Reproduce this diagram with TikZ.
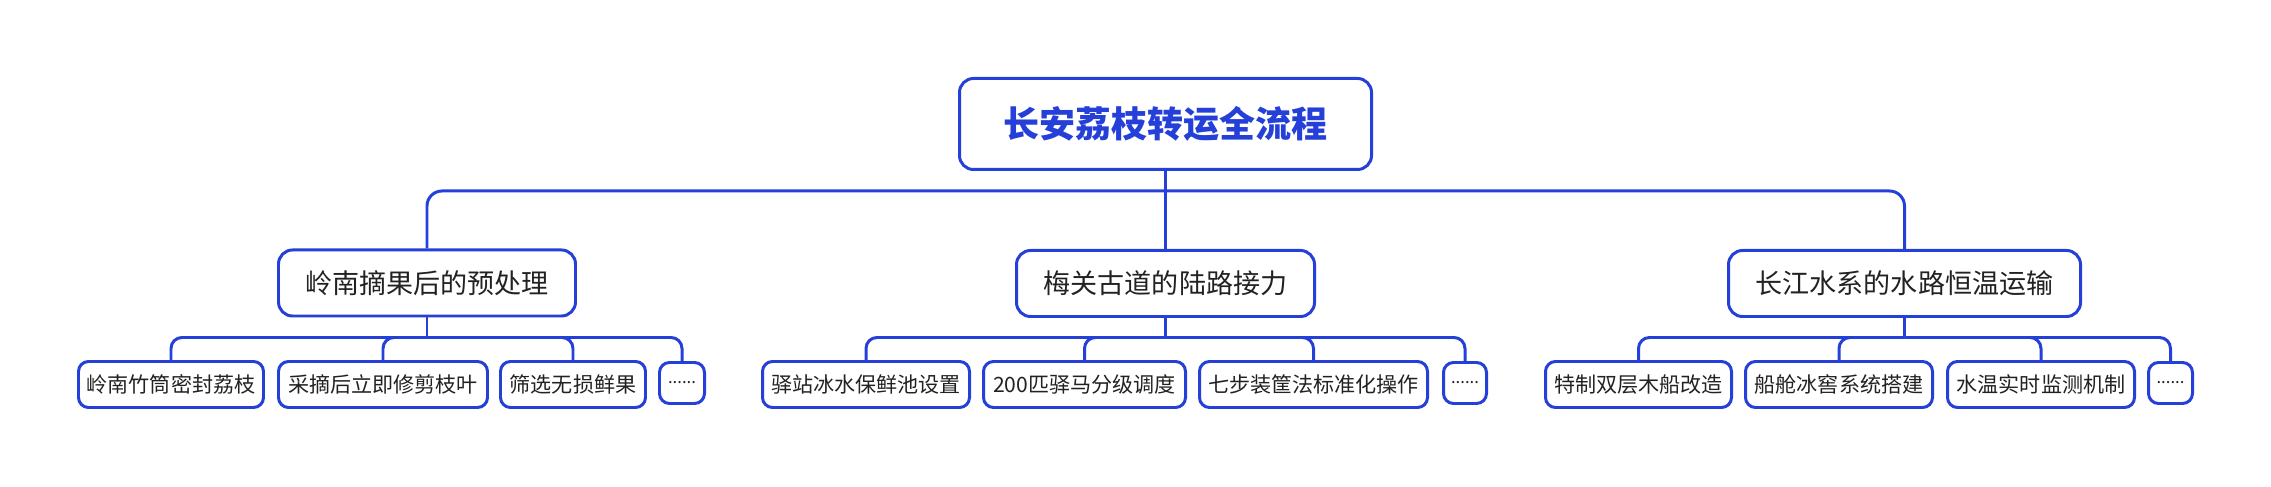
\documentclass[tikz,border=0pt]{standalone}
\usepackage{fontspec}
\usepackage{tikz}
\newfontfamily\cjk{Noto Sans CJK SC}
\definecolor{mblue}{RGB}{37, 64, 216}
\definecolor{mgray}{RGB}{34, 34, 34}
\tikzset{
  topic/.style={draw=mblue, line width=1.7pt, rounded corners=0.28cm, fill=white, text=mgray, inner sep=0pt, align=center},
  rootbox/.style={topic, minimum width=8.24cm, minimum height=1.82cm, text=mblue, font=\cjk\bfseries\fontsize{20.5}{24}\selectfont},
  mainbox/.style={topic, minimum height=1.32cm, font=\cjk\fontsize{15.4}{18}\selectfont},
  subbox/.style={topic, rounded corners=0.2cm, minimum height=0.92cm, font=\cjk\fontsize{12}{14}\selectfont},
  dotbox/.style={subbox, minimum height=0.82cm, font=\cjk\fontsize{9.5}{12}\selectfont},
  link/.style={mblue, line width=1.7pt},
}

\begin{document}
\begin{tikzpicture}
    \useasboundingbox (0, 0) rectangle (45.42, -9.74);

    \node [rootbox] (root) at (23.31, -2.48) {长安荔枝转运全流程};

    \node [mainbox, minimum width=5.94cm] (pre) at (8.54, -5.66) {岭南摘果后的预处理};
    \node [mainbox, minimum width=5.96cm] (land) at (23.31, -5.67) {梅关古道的陆路接力};
    \node [mainbox, minimum width=7.04cm] (water) at (38.09, -5.67) {长江水系的水路恒温运输};

    \node [subbox, minimum width=3.7cm] (pre1) at (3.42, -7.69) {岭南竹筒密封荔枝};
    \node [subbox, minimum width=4.18cm] (pre2) at (7.66, -7.69) {采摘后立即修剪枝叶};
    \node [subbox, minimum width=2.9cm] (pre3) at (11.46, -7.69) {筛选无损鲜果};
    \node [dotbox, minimum width=0.9cm] (pre4) at (13.64, -7.66) {......};

    \node [subbox, minimum width=4.14cm] (land1) at (17.32, -7.69) {驿站冰水保鲜池设置};
    \node [subbox, minimum width=4.04cm] (land2) at (21.69, -7.69) {200匹驿马分级调度};
    \node [subbox, minimum width=4.56cm] (land3) at (26.27, -7.69) {七步装筐法标准化操作};
    \node [dotbox, minimum width=0.86cm] (land4) at (29.3, -7.66) {......};

    \node [subbox, minimum width=3.72cm] (water1) at (32.77, -7.69) {特制双层木船改造};
    \node [subbox, minimum width=3.74cm] (water2) at (36.78, -7.69) {船舱冰窖系统搭建};
    \node [subbox, minimum width=3.74cm] (water3) at (40.82, -7.69) {水温实时监测机制};
    \node [dotbox, minimum width=0.88cm] (water4) at (43.41, -7.66) {......};

    \coordinate (rootbus) at (root.south |- 0, -3.82);
    \coordinate (prebus) at (pre.south |- 0, -6.75);
    \coordinate (landbus) at (land.south |- 0, -6.75);
    \coordinate (waterbus) at (water.south |- 0, -6.75);

    \draw [link] (root.south) -- (rootbus);
    \draw [link, rounded corners=0.3cm] (rootbus) -| (pre.north);
    \draw [link, rounded corners=0.3cm] (rootbus) -| (land.north);
    \draw [link, rounded corners=0.3cm] (rootbus) -| (water.north);

    \draw [link] (pre.south) -- (prebus);
    \draw [link, rounded corners=0.22cm] (prebus) -| (pre1.north);
    \draw [link, rounded corners=0.22cm] (prebus) -| (pre2.north);
    \draw [link, rounded corners=0.22cm] (prebus) -| (pre3.north);
    \draw [link, rounded corners=0.22cm] (prebus) -| (pre4.north);

    \draw [link] (land.south) -- (landbus);
    \draw [link, rounded corners=0.22cm] (landbus) -| (land1.north);
    \draw [link, rounded corners=0.22cm] (landbus) -| (land2.north);
    \draw [link, rounded corners=0.22cm] (landbus) -| (land3.north);
    \draw [link, rounded corners=0.22cm] (landbus) -| (land4.north);

    \draw [link] (water.south) -- (waterbus);
    \draw [link, rounded corners=0.22cm] (waterbus) -| (water1.north);
    \draw [link, rounded corners=0.22cm] (waterbus) -| (water2.north);
    \draw [link, rounded corners=0.22cm] (waterbus) -| (water3.north);
    \draw [link, rounded corners=0.22cm] (waterbus) -| (water4.north);
  \end{tikzpicture}
\end{document}
